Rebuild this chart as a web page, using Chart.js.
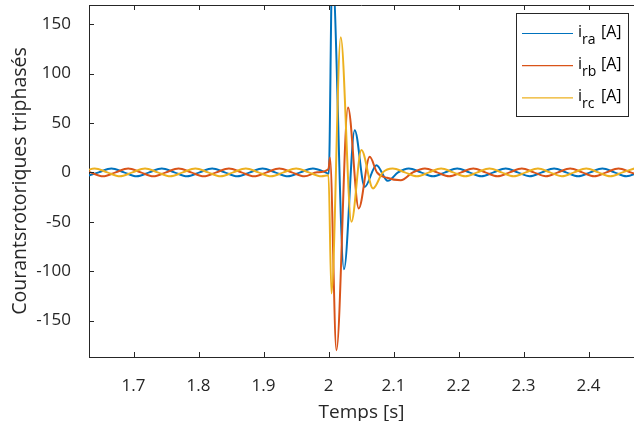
<!DOCTYPE html>
<html>
<head>
<meta charset="utf-8">
<script src="https://cdn.jsdelivr.net/npm/chart.js@4.4.1/dist/chart.umd.min.js"></script>
<style>
html,body{margin:0;padding:0;background:#fff;}
#wrap{width:634px;height:421px;position:relative;}
</style>
</head>
<body>
<div id="wrap"><canvas id="c" width="634" height="421"></canvas></div>
<script>
// ---- data ----
// phase a (blue)
const tA = [1.627,1.6464,1.666,1.6854,1.7048,1.7241,1.7435,1.7629,1.7823,1.8016,1.821,1.8404,1.8598,1.8791,1.8985,1.9179,1.9373,1.9566,1.976,1.9954,
  2.0004,2.0057,2.0238,2.0403,2.0557,2.0737,2.0911,2.107,
  2.1236,2.1422,2.1608,2.1794,2.198,2.2166,2.2352,2.2538,2.2726,2.291,2.3095,2.3282,2.347,2.3656,2.384,2.4026,2.4214,2.44,2.4584,2.477];
const iA = [-4,0,4,0,-4,0,4,0,-4,0,4,0,-4,0,4,0,-4,0,4,0,
  -1.5,205,-98,42.7,-14.7,7.3,-8.6,0,
  4,0,-4,0,4,0,-4,0,4,0,-4,0,4,0,-4,0,4,0,-4,0];
// phase b (orange)
const tB = [1.6143,1.6336,1.653,1.6724,1.6918,1.7111,1.7305,1.7499,1.7693,1.7886,1.808,1.8274,1.8468,1.8661,1.8855,1.9049,1.9243,1.9436,1.963,1.9824,
  2.0,2.0022,2.0122,2.03,2.0465,2.0634,2.0745,2.09,2.1112,
  2.1298,2.1484,2.167,2.1856,2.2042,2.2228,2.2414,2.26,2.2787,2.2974,2.3158,2.3343,2.353,2.3718,2.3904,2.4088,2.4274,2.4462,2.4648,2.4832];
const iB = [4,0,-4,0,4,0,-4,0,4,0,-4,0,4,0,-4,0,4,0,-4,0,
  3.5,15,-180,65.7,-36.5,15.7,0,-5.5,-8,
  0,4,0,-4,0,4,0,-4,0,4,0,-4,0,4,0,-4,0,4,0,-4];
// phase c (yellow)
const tC = [1.621,1.6402,1.6596,1.679,1.6983,1.7177,1.7371,1.7565,1.7758,1.7952,1.8146,1.834,1.8533,1.8727,1.8921,1.9115,1.9308,1.9502,1.9696,1.989,
  2.0,2.0045,2.0188,2.0352,2.0506,2.0685,2.0835,
  2.0988,2.1174,2.136,2.1546,2.1732,2.1918,2.2104,2.229,2.2476,2.2662,2.2848,2.3035,2.3222,2.3406,2.3591,2.3778,2.3966,2.4151,2.4336,2.4523,2.471];
const iC = [0,4,0,-4,0,4,0,-4,0,4,0,-4,0,4,0,-4,0,4,0,-4,
  -3,-122.6,136.6,-50.1,22.5,-16.3,0,
  4,0,-4,0,4,0,-4,0,4,0,-4,0,4,0,-4,0,4,0,-4,0,4];

const seriesSub = ['ra','rb','rc'];
const xTickValues = [1.7,1.8,1.9,2,2.1,2.2,2.3,2.4];
const xTickLabels = ['1.7','1.8','1.9','2','2.1','2.2','2.3','2.4'];
const yTickValues = [-150,-100,-50,0,50,100,150];
const yTickLabels = ['-150','-100','-50','0','50','100','150'];

// ---- styling ----
const AX = '#262626';
const FONT = "'Open Sans', 'Noto Sans', sans-serif";
const colors = ['#0072BD','#D95319','#EDB120'];

function pts(t, v){ return t.map((x,i)=>({x:x, y:v[i]})); }

const framePlugin = {
  id:'frame',
  afterDraw(chart){
    const ctx = chart.ctx, a = chart.chartArea;
    const xs = chart.scales.x, ys = chart.scales.y;
    ctx.save();
    ctx.strokeStyle = AX; ctx.lineWidth = 1;
    ctx.beginPath();
    ctx.moveTo(a.left, Math.round(a.top)+0.5); ctx.lineTo(a.right, Math.round(a.top)+0.5);
    const L = 5;
    xTickValues.forEach(v=>{
      const px = Math.round(xs.getPixelForValue(v))+0.5;
      ctx.moveTo(px, a.bottom); ctx.lineTo(px, a.bottom-L);
      ctx.moveTo(px, a.top); ctx.lineTo(px, a.top+L);
    });
    yTickValues.forEach(v=>{
      const py = Math.round(ys.getPixelForValue(v))+0.5;
      ctx.moveTo(a.left, py); ctx.lineTo(a.left+L, py);
    });
    ctx.stroke();

    // legend box (MATLAB style with subscripts)
    const bx=516.5, by=13.5, bw=112, bh=103;
    ctx.fillStyle='#fff';
    ctx.fillRect(bx,by,bw,bh);
    ctx.strokeStyle = AX; ctx.lineWidth=1;
    ctx.strokeRect(bx,by,bw,bh);
    chart.data.datasets.forEach((ds,i)=>{
      const cy = 33.5 + i*32.2;
      ctx.strokeStyle = ds.borderColor; ctx.lineWidth=1.2;
      ctx.beginPath(); ctx.moveTo(522,cy); ctx.lineTo(573,cy); ctx.stroke();
      ctx.fillStyle = '#000';
      ctx.textBaseline='alphabetic'; ctx.textAlign='left';
      ctx.font = "16px " + FONT;
      ctx.fillText('i', 578, cy+3);
      ctx.font = "14px " + FONT;
      ctx.fillText(seriesSub[i], 582, cy+10);
      ctx.font = "16px " + FONT;
      ctx.fillText('[A]', 601, cy+3);
    });
    ctx.restore();
  }
};

new Chart(document.getElementById('c'), {
  type:'line',
  data:{
    datasets:[
      {label:'i_ra [A]', data:pts(tA,iA), borderColor:colors[0], order:2},
      {label:'i_rb [A]', data:pts(tB,iB), borderColor:colors[1], order:1},
      {label:'i_rc [A]', data:pts(tC,iC), borderColor:colors[2], order:0}
    ]
  },
  options:{
    responsive:false,
    animation:false,
    devicePixelRatio:1,
    layout:{padding:{top:5,right:0,bottom:0,left:0}},
    elements:{
      line:{borderWidth:2, cubicInterpolationMode:'monotone', fill:false},
      point:{radius:0, hoverRadius:0}
    },
    plugins:{legend:{display:false}, tooltip:{enabled:false}},
    scales:{
      x:{
        type:'linear', min:1.6315, max:2.47,
        grid:{display:false},
        border:{display:true, color:AX, width:1},
        afterBuildTicks:(s)=>{ s.ticks = xTickValues.map(v=>({value:v})); },
        afterFit:(s)=>{ s.height = 64; s.paddingLeft = 0; s.paddingRight = 0; },
        ticks:{
          color:AX, font:{family:FONT, size:17}, padding:11, maxRotation:0, autoSkip:false,
          callback:(v)=>{ const k = xTickValues.findIndex(t=>Math.abs(t-v)<1e-9); return k>=0 ? xTickLabels[k] : ''; }
        },
        title:{display:true, text:'Temps [s]', color:AX, font:{family:FONT, size:19, lineHeight:1.0}, padding:{top:0,bottom:-1}}
      },
      y:{
        type:'linear', min:-186.8, max:169.3,
        grid:{display:false},
        border:{display:true, color:AX, width:1},
        afterBuildTicks:(s)=>{ s.ticks = yTickValues.map(v=>({value:v})); },
        afterFit:(s)=>{ s.width = 89; s.paddingTop = 0; s.paddingBottom = 0; },
        ticks:{
          color:AX, font:{family:FONT, size:17}, padding:10, autoSkip:false,
          callback:(v)=>{ const k = yTickValues.indexOf(v); return k>=0 ? yTickLabels[k] : ''; }
        },
        title:{display:true, text:'Courantsrotoriques triphasés', color:AX, font:{family:FONT, size:19.5, lineHeight:1.2}, padding:{top:9,bottom:0}}
      }
    }
  },
  plugins:[framePlugin]
});
</script>
</body>
</html>
